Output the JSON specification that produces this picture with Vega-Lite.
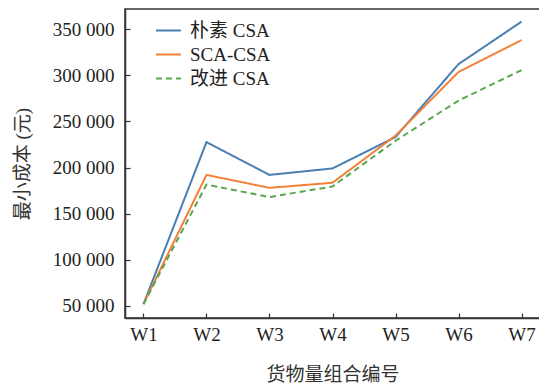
{
  "$schema": "https://vega.github.io/schema/vega-lite/v6.json",
  "autosize": {"type": "none"},
  "width": 415,
  "height": 309,
  "padding": {"left": 125, "top": 9, "right": 0, "bottom": 67},
  "background": "white",
  "config": {
    "locale": {"number": {"decimal": ".", "thousands": " ", "grouping": [3], "currency": ["", ""]}},
    "font": "'Liberation Serif', 'Noto Sans CJK SC'",
    "view": {"stroke": "#333", "strokeWidth": 1.5},
    "axis": {
      "grid": false,
      "domainColor": "#333",
      "domainWidth": 1.5,
      "tickColor": "#333",
      "tickWidth": 1.2,
      "tickSize": -5,
      "labelFont": "'Liberation Serif'",
      "labelFontSize": 19,
      "labelColor": "#222",
      "titleFont": "'Liberation Serif', 'Noto Sans CJK SC'",
      "titleFontSize": 19,
      "titleFontWeight": "normal",
      "titleColor": "#333"
    }
  },
  "data": {
    "values": [
      {"w": "W1", "method": "朴素 CSA", "cost": 52000},
      {"w": "W2", "method": "朴素 CSA", "cost": 227500},
      {"w": "W3", "method": "朴素 CSA", "cost": 192000},
      {"w": "W4", "method": "朴素 CSA", "cost": 199000},
      {"w": "W5", "method": "朴素 CSA", "cost": 233000},
      {"w": "W6", "method": "朴素 CSA", "cost": 312000},
      {"w": "W7", "method": "朴素 CSA", "cost": 358000},
      {"w": "W1", "method": "SCA-CSA", "cost": 52000},
      {"w": "W2", "method": "SCA-CSA", "cost": 192000},
      {"w": "W3", "method": "SCA-CSA", "cost": 178000},
      {"w": "W4", "method": "SCA-CSA", "cost": 183500},
      {"w": "W5", "method": "SCA-CSA", "cost": 234500},
      {"w": "W6", "method": "SCA-CSA", "cost": 303500},
      {"w": "W7", "method": "SCA-CSA", "cost": 338000},
      {"w": "W1", "method": "改进 CSA", "cost": 52000},
      {"w": "W2", "method": "改进 CSA", "cost": 181500},
      {"w": "W3", "method": "改进 CSA", "cost": 168000},
      {"w": "W4", "method": "改进 CSA", "cost": 179500},
      {"w": "W5", "method": "改进 CSA", "cost": 229000},
      {"w": "W6", "method": "改进 CSA", "cost": 272500},
      {"w": "W7", "method": "改进 CSA", "cost": 305500}
    ]
  },
  "mark": {"type": "line", "strokeWidth": 2},
  "encoding": {
    "x": {
      "field": "w", "type": "ordinal",
      "scale": {"type": "point", "padding": 0.293},
      "axis": {"title": "货物量组合编号", "labelAngle": 0, "labelPadding": 12, "titlePadding": 21}
    },
    "y": {
      "field": "cost", "type": "quantitative",
      "scale": {"domain": [37000, 371700], "nice": false, "zero": false},
      "axis": {"title": "最小成本 (元)", "values": [50000, 100000, 150000, 200000, 250000, 300000, 350000], "format": ",d", "labelPadding": 16, "titlePadding": 20}
    },
    "color": {
      "field": "method", "type": "nominal",
      "scale": {"domain": ["朴素 CSA", "SCA-CSA", "改进 CSA"], "range": ["#4a7eb0", "#f0823a", "#5aa64e"]},
      "legend": {
        "title": null, "orient": "none", "legendX": 30, "legendY": 8,
        "symbolType": "stroke", "symbolSize": 625, "symbolStrokeWidth": 2,
        "labelFont": "'Liberation Serif', 'Noto Sans CJK SC'", "labelFontSize": 19, "labelColor": "#222",
        "rowPadding": 0, "labelOffset": 8
      }
    },
    "strokeDash": {
      "field": "method", "type": "nominal",
      "scale": {"domain": ["朴素 CSA", "SCA-CSA", "改进 CSA"], "range": [[1, 0], [1, 0], [6, 4]]},
      "legend": null
    }
  }
}
